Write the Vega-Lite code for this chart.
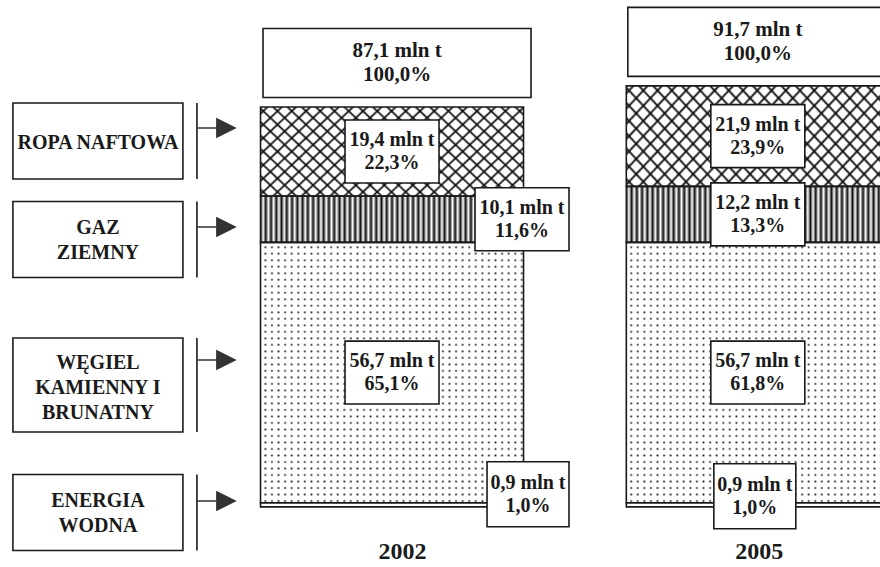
{
  "$schema": "https://vega.github.io/schema/vega-lite/v6.json",
  "width": 880,
  "height": 567,
  "padding": 0,
  "autosize": {"type": "none"},
  "background": "white",
  "config": {
    "view": {"stroke": null},
    "font": "Liberation Serif",
    "locale": {"number": {"decimal": ",", "thousands": " ", "grouping": [3], "currency": ["", " mln t"]}}
  },
  "datasets": {
    "nosniki": [
      {"rok": 2002, "nosnik": "ropa", "kolejnosc": 4, "mln_t": 19.4, "udzial": 0.223},
      {"rok": 2002, "nosnik": "gaz", "kolejnosc": 3, "mln_t": 10.1, "udzial": 0.116},
      {"rok": 2002, "nosnik": "wegiel", "kolejnosc": 2, "mln_t": 56.7, "udzial": 0.651},
      {"rok": 2002, "nosnik": "woda", "kolejnosc": 1, "mln_t": 0.9, "udzial": 0.010},
      {"rok": 2005, "nosnik": "ropa", "kolejnosc": 4, "mln_t": 21.9, "udzial": 0.239},
      {"rok": 2005, "nosnik": "gaz", "kolejnosc": 3, "mln_t": 12.2, "udzial": 0.133},
      {"rok": 2005, "nosnik": "wegiel", "kolejnosc": 2, "mln_t": 56.7, "udzial": 0.618},
      {"rok": 2005, "nosnik": "woda", "kolejnosc": 1, "mln_t": 0.9, "udzial": 0.010}
    ],
    "legenda": [
      {"nosnik": "ropa", "nazwa": "ROPA NAFTOWA"},
      {"nosnik": "gaz", "nazwa": "GAZ\nZIEMNY"},
      {"nosnik": "wegiel", "nazwa": "WĘGIEL\nKAMIENNY I\nBRUNATNY"},
      {"nosnik": "woda", "nazwa": "ENERGIA\nWODNA"}
    ]
  },
  "layer": [
    {
      "data": {"name": "nosniki"},
      "encoding": {
        "x": {
          "field": "rok", "type": "quantitative",
          "scale": {"domain": [1998.826, 2005.961], "nice": false, "zero": false},
          "axis": {"values": [2002, 2005], "format": "d", "title": null, "domain": false, "ticks": false, "tickSize": 0, "grid": false,
                   "labelFont": "Liberation Serif", "labelFontSize": 24, "labelFontWeight": "bold", "labelColor": "#1a1a1a",
                   "labelPadding": 0, "labelFlush": false, "labelOverlap": false, "offset": -28,
                   "labelOffset": {"condition": {"test": "datum.value === 2002", "value": 10}, "value": 1}}
        },
        "y": {"field": "mln_t", "type": "quantitative", "stack": "zero", "scale": {"domain": [-13.1, 110.4], "nice": false, "zero": false}, "axis": null},
        "detail": {"field": "nosnik", "type": "nominal"},
        "order": {"field": "kolejnosc", "type": "quantitative"}
      },
      "layer": [
        {
          "mark": {"type": "bar", "width": 263, "opacity": 1},
          "encoding": {
            "fill": {
              "condition": [
                {"test": "datum.nosnik === 'gaz'", "value": {"gradient": "linear", "x1": 0, "y1": 0, "x2": 1, "y2": 0, "stops": [
                  {"offset": 0, "color": "#111"}, {"offset": 0.01, "color": "#fff"}, {"offset": 0.02, "color": "#111"}, {"offset": 0.03, "color": "#fff"},
                  {"offset": 0.04, "color": "#111"}, {"offset": 0.05, "color": "#fff"}, {"offset": 0.06, "color": "#111"}, {"offset": 0.07, "color": "#fff"},
                  {"offset": 0.08, "color": "#111"}, {"offset": 0.09, "color": "#fff"}, {"offset": 0.10, "color": "#111"}, {"offset": 0.11, "color": "#fff"},
                  {"offset": 0.12, "color": "#111"}, {"offset": 0.13, "color": "#fff"}, {"offset": 0.14, "color": "#111"}, {"offset": 0.15, "color": "#fff"},
                  {"offset": 0.16, "color": "#111"}, {"offset": 0.17, "color": "#fff"}, {"offset": 0.18, "color": "#111"}, {"offset": 0.19, "color": "#fff"},
                  {"offset": 0.20, "color": "#111"}, {"offset": 0.21, "color": "#fff"}, {"offset": 0.22, "color": "#111"}, {"offset": 0.23, "color": "#fff"},
                  {"offset": 0.24, "color": "#111"}, {"offset": 0.25, "color": "#fff"}, {"offset": 0.26, "color": "#111"}, {"offset": 0.27, "color": "#fff"},
                  {"offset": 0.28, "color": "#111"}, {"offset": 0.29, "color": "#fff"}, {"offset": 0.30, "color": "#111"}, {"offset": 0.31, "color": "#fff"},
                  {"offset": 0.32, "color": "#111"}, {"offset": 0.33, "color": "#fff"}, {"offset": 0.34, "color": "#111"}, {"offset": 0.35, "color": "#fff"},
                  {"offset": 0.36, "color": "#111"}, {"offset": 0.37, "color": "#fff"}, {"offset": 0.38, "color": "#111"}, {"offset": 0.39, "color": "#fff"},
                  {"offset": 0.40, "color": "#111"}, {"offset": 0.41, "color": "#fff"}, {"offset": 0.42, "color": "#111"}, {"offset": 0.43, "color": "#fff"},
                  {"offset": 0.44, "color": "#111"}, {"offset": 0.45, "color": "#fff"}, {"offset": 0.46, "color": "#111"}, {"offset": 0.47, "color": "#fff"},
                  {"offset": 0.48, "color": "#111"}, {"offset": 0.49, "color": "#fff"}, {"offset": 0.50, "color": "#111"}, {"offset": 0.51, "color": "#fff"},
                  {"offset": 0.52, "color": "#111"}, {"offset": 0.53, "color": "#fff"}, {"offset": 0.54, "color": "#111"}, {"offset": 0.55, "color": "#fff"},
                  {"offset": 0.56, "color": "#111"}, {"offset": 0.57, "color": "#fff"}, {"offset": 0.58, "color": "#111"}, {"offset": 0.59, "color": "#fff"},
                  {"offset": 0.60, "color": "#111"}, {"offset": 0.61, "color": "#fff"}, {"offset": 0.62, "color": "#111"}, {"offset": 0.63, "color": "#fff"},
                  {"offset": 0.64, "color": "#111"}, {"offset": 0.65, "color": "#fff"}, {"offset": 0.66, "color": "#111"}, {"offset": 0.67, "color": "#fff"},
                  {"offset": 0.68, "color": "#111"}, {"offset": 0.69, "color": "#fff"}, {"offset": 0.70, "color": "#111"}, {"offset": 0.71, "color": "#fff"},
                  {"offset": 0.72, "color": "#111"}, {"offset": 0.73, "color": "#fff"}, {"offset": 0.74, "color": "#111"}, {"offset": 0.75, "color": "#fff"},
                  {"offset": 0.76, "color": "#111"}, {"offset": 0.77, "color": "#fff"}, {"offset": 0.78, "color": "#111"}, {"offset": 0.79, "color": "#fff"},
                  {"offset": 0.80, "color": "#111"}, {"offset": 0.81, "color": "#fff"}, {"offset": 0.82, "color": "#111"}, {"offset": 0.83, "color": "#fff"},
                  {"offset": 0.84, "color": "#111"}, {"offset": 0.85, "color": "#fff"}, {"offset": 0.86, "color": "#111"}, {"offset": 0.87, "color": "#fff"},
                  {"offset": 0.88, "color": "#111"}, {"offset": 0.89, "color": "#fff"}, {"offset": 0.90, "color": "#111"}, {"offset": 0.91, "color": "#fff"},
                  {"offset": 0.92, "color": "#111"}, {"offset": 0.93, "color": "#fff"}, {"offset": 0.94, "color": "#111"}, {"offset": 0.95, "color": "#fff"},
                  {"offset": 0.96, "color": "#111"}, {"offset": 0.97, "color": "#fff"}, {"offset": 0.98, "color": "#111"}, {"offset": 0.99, "color": "#fff"},
                  {"offset": 1, "color": "#111"}
                ]}},
                {"test": "datum.nosnik === 'wegiel'", "value": "#111"}
              ],
              "value": "white"
            }
          }
        },
        {
          "mark": {"type": "bar", "width": 263, "opacity": 1},
          "encoding": {
            "fill": {
              "condition": [
                {"test": "datum.nosnik === 'ropa'", "value": {"gradient": "linear", "x1": 0, "y1": 0, "x2": 1.2, "y2": 0.43, "stops": [
                  {"offset": 0.013, "color": "rgba(0,0,0,0)"}, {"offset": 0.02, "color": "#111"}, {"offset": 0.027, "color": "rgba(0,0,0,0)"},
                  {"offset": 0.053, "color": "rgba(0,0,0,0)"}, {"offset": 0.06, "color": "#111"}, {"offset": 0.067, "color": "rgba(0,0,0,0)"},
                  {"offset": 0.093, "color": "rgba(0,0,0,0)"}, {"offset": 0.1, "color": "#111"}, {"offset": 0.107, "color": "rgba(0,0,0,0)"},
                  {"offset": 0.133, "color": "rgba(0,0,0,0)"}, {"offset": 0.14, "color": "#111"}, {"offset": 0.147, "color": "rgba(0,0,0,0)"},
                  {"offset": 0.173, "color": "rgba(0,0,0,0)"}, {"offset": 0.18, "color": "#111"}, {"offset": 0.187, "color": "rgba(0,0,0,0)"},
                  {"offset": 0.213, "color": "rgba(0,0,0,0)"}, {"offset": 0.22, "color": "#111"}, {"offset": 0.227, "color": "rgba(0,0,0,0)"},
                  {"offset": 0.253, "color": "rgba(0,0,0,0)"}, {"offset": 0.26, "color": "#111"}, {"offset": 0.267, "color": "rgba(0,0,0,0)"},
                  {"offset": 0.293, "color": "rgba(0,0,0,0)"}, {"offset": 0.3, "color": "#111"}, {"offset": 0.307, "color": "rgba(0,0,0,0)"},
                  {"offset": 0.333, "color": "rgba(0,0,0,0)"}, {"offset": 0.34, "color": "#111"}, {"offset": 0.347, "color": "rgba(0,0,0,0)"},
                  {"offset": 0.373, "color": "rgba(0,0,0,0)"}, {"offset": 0.38, "color": "#111"}, {"offset": 0.387, "color": "rgba(0,0,0,0)"},
                  {"offset": 0.413, "color": "rgba(0,0,0,0)"}, {"offset": 0.42, "color": "#111"}, {"offset": 0.427, "color": "rgba(0,0,0,0)"},
                  {"offset": 0.453, "color": "rgba(0,0,0,0)"}, {"offset": 0.46, "color": "#111"}, {"offset": 0.467, "color": "rgba(0,0,0,0)"},
                  {"offset": 0.493, "color": "rgba(0,0,0,0)"}, {"offset": 0.5, "color": "#111"}, {"offset": 0.507, "color": "rgba(0,0,0,0)"},
                  {"offset": 0.533, "color": "rgba(0,0,0,0)"}, {"offset": 0.54, "color": "#111"}, {"offset": 0.547, "color": "rgba(0,0,0,0)"},
                  {"offset": 0.573, "color": "rgba(0,0,0,0)"}, {"offset": 0.58, "color": "#111"}, {"offset": 0.587, "color": "rgba(0,0,0,0)"},
                  {"offset": 0.613, "color": "rgba(0,0,0,0)"}, {"offset": 0.62, "color": "#111"}, {"offset": 0.627, "color": "rgba(0,0,0,0)"},
                  {"offset": 0.653, "color": "rgba(0,0,0,0)"}, {"offset": 0.66, "color": "#111"}, {"offset": 0.667, "color": "rgba(0,0,0,0)"},
                  {"offset": 0.693, "color": "rgba(0,0,0,0)"}, {"offset": 0.7, "color": "#111"}, {"offset": 0.707, "color": "rgba(0,0,0,0)"},
                  {"offset": 0.733, "color": "rgba(0,0,0,0)"}, {"offset": 0.74, "color": "#111"}, {"offset": 0.747, "color": "rgba(0,0,0,0)"},
                  {"offset": 0.773, "color": "rgba(0,0,0,0)"}, {"offset": 0.78, "color": "#111"}, {"offset": 0.787, "color": "rgba(0,0,0,0)"},
                  {"offset": 0.813, "color": "rgba(0,0,0,0)"}, {"offset": 0.82, "color": "#111"}, {"offset": 0.827, "color": "rgba(0,0,0,0)"},
                  {"offset": 0.853, "color": "rgba(0,0,0,0)"}, {"offset": 0.86, "color": "#111"}, {"offset": 0.867, "color": "rgba(0,0,0,0)"},
                  {"offset": 0.893, "color": "rgba(0,0,0,0)"}, {"offset": 0.9, "color": "#111"}, {"offset": 0.907, "color": "rgba(0,0,0,0)"},
                  {"offset": 0.933, "color": "rgba(0,0,0,0)"}, {"offset": 0.94, "color": "#111"}, {"offset": 0.947, "color": "rgba(0,0,0,0)"},
                  {"offset": 0.973, "color": "rgba(0,0,0,0)"}, {"offset": 0.98, "color": "#111"}, {"offset": 0.987, "color": "rgba(0,0,0,0)"}
                ]}},
                {"test": "datum.nosnik === 'wegiel'", "value": {"gradient": "linear", "x1": 0, "y1": 0, "x2": 1, "y2": 0, "stops": [
                  {"offset": 0, "color": "#fff"}, {"offset": 0.012, "color": "#fff"}, {"offset": 0.0185, "color": "rgba(255,255,255,0)"},
                  {"offset": 0.025, "color": "#fff"}, {"offset": 0.037, "color": "#fff"}, {"offset": 0.0435, "color": "rgba(255,255,255,0)"},
                  {"offset": 0.05, "color": "#fff"}, {"offset": 0.062, "color": "#fff"}, {"offset": 0.0685, "color": "rgba(255,255,255,0)"},
                  {"offset": 0.075, "color": "#fff"}, {"offset": 0.087, "color": "#fff"}, {"offset": 0.0935, "color": "rgba(255,255,255,0)"},
                  {"offset": 0.1, "color": "#fff"}, {"offset": 0.112, "color": "#fff"}, {"offset": 0.1185, "color": "rgba(255,255,255,0)"},
                  {"offset": 0.125, "color": "#fff"}, {"offset": 0.137, "color": "#fff"}, {"offset": 0.1435, "color": "rgba(255,255,255,0)"},
                  {"offset": 0.15, "color": "#fff"}, {"offset": 0.162, "color": "#fff"}, {"offset": 0.1685, "color": "rgba(255,255,255,0)"},
                  {"offset": 0.175, "color": "#fff"}, {"offset": 0.187, "color": "#fff"}, {"offset": 0.1935, "color": "rgba(255,255,255,0)"},
                  {"offset": 0.2, "color": "#fff"}, {"offset": 0.212, "color": "#fff"}, {"offset": 0.2185, "color": "rgba(255,255,255,0)"},
                  {"offset": 0.225, "color": "#fff"}, {"offset": 0.237, "color": "#fff"}, {"offset": 0.2435, "color": "rgba(255,255,255,0)"},
                  {"offset": 0.25, "color": "#fff"}, {"offset": 0.262, "color": "#fff"}, {"offset": 0.2685, "color": "rgba(255,255,255,0)"},
                  {"offset": 0.275, "color": "#fff"}, {"offset": 0.287, "color": "#fff"}, {"offset": 0.2935, "color": "rgba(255,255,255,0)"},
                  {"offset": 0.3, "color": "#fff"}, {"offset": 0.312, "color": "#fff"}, {"offset": 0.3185, "color": "rgba(255,255,255,0)"},
                  {"offset": 0.325, "color": "#fff"}, {"offset": 0.337, "color": "#fff"}, {"offset": 0.3435, "color": "rgba(255,255,255,0)"},
                  {"offset": 0.35, "color": "#fff"}, {"offset": 0.362, "color": "#fff"}, {"offset": 0.3685, "color": "rgba(255,255,255,0)"},
                  {"offset": 0.375, "color": "#fff"}, {"offset": 0.387, "color": "#fff"}, {"offset": 0.3935, "color": "rgba(255,255,255,0)"},
                  {"offset": 0.4, "color": "#fff"}, {"offset": 0.412, "color": "#fff"}, {"offset": 0.4185, "color": "rgba(255,255,255,0)"},
                  {"offset": 0.425, "color": "#fff"}, {"offset": 0.437, "color": "#fff"}, {"offset": 0.4435, "color": "rgba(255,255,255,0)"},
                  {"offset": 0.45, "color": "#fff"}, {"offset": 0.462, "color": "#fff"}, {"offset": 0.4685, "color": "rgba(255,255,255,0)"},
                  {"offset": 0.475, "color": "#fff"}, {"offset": 0.487, "color": "#fff"}, {"offset": 0.4935, "color": "rgba(255,255,255,0)"},
                  {"offset": 0.5, "color": "#fff"}, {"offset": 0.512, "color": "#fff"}, {"offset": 0.5185, "color": "rgba(255,255,255,0)"},
                  {"offset": 0.525, "color": "#fff"}, {"offset": 0.537, "color": "#fff"}, {"offset": 0.5435, "color": "rgba(255,255,255,0)"},
                  {"offset": 0.55, "color": "#fff"}, {"offset": 0.562, "color": "#fff"}, {"offset": 0.5685, "color": "rgba(255,255,255,0)"},
                  {"offset": 0.575, "color": "#fff"}, {"offset": 0.587, "color": "#fff"}, {"offset": 0.5935, "color": "rgba(255,255,255,0)"},
                  {"offset": 0.6, "color": "#fff"}, {"offset": 0.612, "color": "#fff"}, {"offset": 0.6185, "color": "rgba(255,255,255,0)"},
                  {"offset": 0.625, "color": "#fff"}, {"offset": 0.637, "color": "#fff"}, {"offset": 0.6435, "color": "rgba(255,255,255,0)"},
                  {"offset": 0.65, "color": "#fff"}, {"offset": 0.662, "color": "#fff"}, {"offset": 0.6685, "color": "rgba(255,255,255,0)"},
                  {"offset": 0.675, "color": "#fff"}, {"offset": 0.687, "color": "#fff"}, {"offset": 0.6935, "color": "rgba(255,255,255,0)"},
                  {"offset": 0.7, "color": "#fff"}, {"offset": 0.712, "color": "#fff"}, {"offset": 0.7185, "color": "rgba(255,255,255,0)"},
                  {"offset": 0.725, "color": "#fff"}, {"offset": 0.737, "color": "#fff"}, {"offset": 0.7435, "color": "rgba(255,255,255,0)"},
                  {"offset": 0.75, "color": "#fff"}, {"offset": 0.762, "color": "#fff"}, {"offset": 0.7685, "color": "rgba(255,255,255,0)"},
                  {"offset": 0.775, "color": "#fff"}, {"offset": 0.787, "color": "#fff"}, {"offset": 0.7935, "color": "rgba(255,255,255,0)"},
                  {"offset": 0.8, "color": "#fff"}, {"offset": 0.812, "color": "#fff"}, {"offset": 0.8185, "color": "rgba(255,255,255,0)"},
                  {"offset": 0.825, "color": "#fff"}, {"offset": 0.837, "color": "#fff"}, {"offset": 0.8435, "color": "rgba(255,255,255,0)"},
                  {"offset": 0.85, "color": "#fff"}, {"offset": 0.862, "color": "#fff"}, {"offset": 0.8685, "color": "rgba(255,255,255,0)"},
                  {"offset": 0.875, "color": "#fff"}, {"offset": 0.887, "color": "#fff"}, {"offset": 0.8935, "color": "rgba(255,255,255,0)"},
                  {"offset": 0.9, "color": "#fff"}, {"offset": 0.912, "color": "#fff"}, {"offset": 0.9185, "color": "rgba(255,255,255,0)"},
                  {"offset": 0.925, "color": "#fff"}, {"offset": 0.937, "color": "#fff"}, {"offset": 0.9435, "color": "rgba(255,255,255,0)"},
                  {"offset": 0.95, "color": "#fff"}, {"offset": 0.962, "color": "#fff"}, {"offset": 0.9685, "color": "rgba(255,255,255,0)"},
                  {"offset": 0.975, "color": "#fff"}, {"offset": 0.987, "color": "#fff"}, {"offset": 0.9935, "color": "rgba(255,255,255,0)"},
                  {"offset": 1, "color": "#fff"}
                ]}}
              ],
              "value": "transparent"
            }
          }
        },
        {
          "mark": {"type": "bar", "width": 263, "opacity": 1},
          "encoding": {
            "fill": {
              "condition": [
                {"test": "datum.nosnik === 'ropa'", "value": {"gradient": "linear", "x1": 0, "y1": 1, "x2": 1.2, "y2": 0.57, "stops": [
                  {"offset": 0.013, "color": "rgba(0,0,0,0)"}, {"offset": 0.02, "color": "#111"}, {"offset": 0.027, "color": "rgba(0,0,0,0)"},
                  {"offset": 0.053, "color": "rgba(0,0,0,0)"}, {"offset": 0.06, "color": "#111"}, {"offset": 0.067, "color": "rgba(0,0,0,0)"},
                  {"offset": 0.093, "color": "rgba(0,0,0,0)"}, {"offset": 0.1, "color": "#111"}, {"offset": 0.107, "color": "rgba(0,0,0,0)"},
                  {"offset": 0.133, "color": "rgba(0,0,0,0)"}, {"offset": 0.14, "color": "#111"}, {"offset": 0.147, "color": "rgba(0,0,0,0)"},
                  {"offset": 0.173, "color": "rgba(0,0,0,0)"}, {"offset": 0.18, "color": "#111"}, {"offset": 0.187, "color": "rgba(0,0,0,0)"},
                  {"offset": 0.213, "color": "rgba(0,0,0,0)"}, {"offset": 0.22, "color": "#111"}, {"offset": 0.227, "color": "rgba(0,0,0,0)"},
                  {"offset": 0.253, "color": "rgba(0,0,0,0)"}, {"offset": 0.26, "color": "#111"}, {"offset": 0.267, "color": "rgba(0,0,0,0)"},
                  {"offset": 0.293, "color": "rgba(0,0,0,0)"}, {"offset": 0.3, "color": "#111"}, {"offset": 0.307, "color": "rgba(0,0,0,0)"},
                  {"offset": 0.333, "color": "rgba(0,0,0,0)"}, {"offset": 0.34, "color": "#111"}, {"offset": 0.347, "color": "rgba(0,0,0,0)"},
                  {"offset": 0.373, "color": "rgba(0,0,0,0)"}, {"offset": 0.38, "color": "#111"}, {"offset": 0.387, "color": "rgba(0,0,0,0)"},
                  {"offset": 0.413, "color": "rgba(0,0,0,0)"}, {"offset": 0.42, "color": "#111"}, {"offset": 0.427, "color": "rgba(0,0,0,0)"},
                  {"offset": 0.453, "color": "rgba(0,0,0,0)"}, {"offset": 0.46, "color": "#111"}, {"offset": 0.467, "color": "rgba(0,0,0,0)"},
                  {"offset": 0.493, "color": "rgba(0,0,0,0)"}, {"offset": 0.5, "color": "#111"}, {"offset": 0.507, "color": "rgba(0,0,0,0)"},
                  {"offset": 0.533, "color": "rgba(0,0,0,0)"}, {"offset": 0.54, "color": "#111"}, {"offset": 0.547, "color": "rgba(0,0,0,0)"},
                  {"offset": 0.573, "color": "rgba(0,0,0,0)"}, {"offset": 0.58, "color": "#111"}, {"offset": 0.587, "color": "rgba(0,0,0,0)"},
                  {"offset": 0.613, "color": "rgba(0,0,0,0)"}, {"offset": 0.62, "color": "#111"}, {"offset": 0.627, "color": "rgba(0,0,0,0)"},
                  {"offset": 0.653, "color": "rgba(0,0,0,0)"}, {"offset": 0.66, "color": "#111"}, {"offset": 0.667, "color": "rgba(0,0,0,0)"},
                  {"offset": 0.693, "color": "rgba(0,0,0,0)"}, {"offset": 0.7, "color": "#111"}, {"offset": 0.707, "color": "rgba(0,0,0,0)"},
                  {"offset": 0.733, "color": "rgba(0,0,0,0)"}, {"offset": 0.74, "color": "#111"}, {"offset": 0.747, "color": "rgba(0,0,0,0)"},
                  {"offset": 0.773, "color": "rgba(0,0,0,0)"}, {"offset": 0.78, "color": "#111"}, {"offset": 0.787, "color": "rgba(0,0,0,0)"},
                  {"offset": 0.813, "color": "rgba(0,0,0,0)"}, {"offset": 0.82, "color": "#111"}, {"offset": 0.827, "color": "rgba(0,0,0,0)"},
                  {"offset": 0.853, "color": "rgba(0,0,0,0)"}, {"offset": 0.86, "color": "#111"}, {"offset": 0.867, "color": "rgba(0,0,0,0)"},
                  {"offset": 0.893, "color": "rgba(0,0,0,0)"}, {"offset": 0.9, "color": "#111"}, {"offset": 0.907, "color": "rgba(0,0,0,0)"},
                  {"offset": 0.933, "color": "rgba(0,0,0,0)"}, {"offset": 0.94, "color": "#111"}, {"offset": 0.947, "color": "rgba(0,0,0,0)"},
                  {"offset": 0.973, "color": "rgba(0,0,0,0)"}, {"offset": 0.98, "color": "#111"}, {"offset": 0.987, "color": "rgba(0,0,0,0)"}
                ]}},
                {"test": "datum.nosnik === 'wegiel'", "value": {"gradient": "linear", "x1": 0, "y1": 0, "x2": 0, "y2": 1, "stops": [
                  {"offset": 0, "color": "#fff"}, {"offset": 0.012, "color": "#fff"}, {"offset": 0.0185, "color": "rgba(255,255,255,0)"},
                  {"offset": 0.025, "color": "#fff"}, {"offset": 0.037, "color": "#fff"}, {"offset": 0.0435, "color": "rgba(255,255,255,0)"},
                  {"offset": 0.05, "color": "#fff"}, {"offset": 0.062, "color": "#fff"}, {"offset": 0.0685, "color": "rgba(255,255,255,0)"},
                  {"offset": 0.075, "color": "#fff"}, {"offset": 0.087, "color": "#fff"}, {"offset": 0.0935, "color": "rgba(255,255,255,0)"},
                  {"offset": 0.1, "color": "#fff"}, {"offset": 0.112, "color": "#fff"}, {"offset": 0.1185, "color": "rgba(255,255,255,0)"},
                  {"offset": 0.125, "color": "#fff"}, {"offset": 0.137, "color": "#fff"}, {"offset": 0.1435, "color": "rgba(255,255,255,0)"},
                  {"offset": 0.15, "color": "#fff"}, {"offset": 0.162, "color": "#fff"}, {"offset": 0.1685, "color": "rgba(255,255,255,0)"},
                  {"offset": 0.175, "color": "#fff"}, {"offset": 0.187, "color": "#fff"}, {"offset": 0.1935, "color": "rgba(255,255,255,0)"},
                  {"offset": 0.2, "color": "#fff"}, {"offset": 0.212, "color": "#fff"}, {"offset": 0.2185, "color": "rgba(255,255,255,0)"},
                  {"offset": 0.225, "color": "#fff"}, {"offset": 0.237, "color": "#fff"}, {"offset": 0.2435, "color": "rgba(255,255,255,0)"},
                  {"offset": 0.25, "color": "#fff"}, {"offset": 0.262, "color": "#fff"}, {"offset": 0.2685, "color": "rgba(255,255,255,0)"},
                  {"offset": 0.275, "color": "#fff"}, {"offset": 0.287, "color": "#fff"}, {"offset": 0.2935, "color": "rgba(255,255,255,0)"},
                  {"offset": 0.3, "color": "#fff"}, {"offset": 0.312, "color": "#fff"}, {"offset": 0.3185, "color": "rgba(255,255,255,0)"},
                  {"offset": 0.325, "color": "#fff"}, {"offset": 0.337, "color": "#fff"}, {"offset": 0.3435, "color": "rgba(255,255,255,0)"},
                  {"offset": 0.35, "color": "#fff"}, {"offset": 0.362, "color": "#fff"}, {"offset": 0.3685, "color": "rgba(255,255,255,0)"},
                  {"offset": 0.375, "color": "#fff"}, {"offset": 0.387, "color": "#fff"}, {"offset": 0.3935, "color": "rgba(255,255,255,0)"},
                  {"offset": 0.4, "color": "#fff"}, {"offset": 0.412, "color": "#fff"}, {"offset": 0.4185, "color": "rgba(255,255,255,0)"},
                  {"offset": 0.425, "color": "#fff"}, {"offset": 0.437, "color": "#fff"}, {"offset": 0.4435, "color": "rgba(255,255,255,0)"},
                  {"offset": 0.45, "color": "#fff"}, {"offset": 0.462, "color": "#fff"}, {"offset": 0.4685, "color": "rgba(255,255,255,0)"},
                  {"offset": 0.475, "color": "#fff"}, {"offset": 0.487, "color": "#fff"}, {"offset": 0.4935, "color": "rgba(255,255,255,0)"},
                  {"offset": 0.5, "color": "#fff"}, {"offset": 0.512, "color": "#fff"}, {"offset": 0.5185, "color": "rgba(255,255,255,0)"},
                  {"offset": 0.525, "color": "#fff"}, {"offset": 0.537, "color": "#fff"}, {"offset": 0.5435, "color": "rgba(255,255,255,0)"},
                  {"offset": 0.55, "color": "#fff"}, {"offset": 0.562, "color": "#fff"}, {"offset": 0.5685, "color": "rgba(255,255,255,0)"},
                  {"offset": 0.575, "color": "#fff"}, {"offset": 0.587, "color": "#fff"}, {"offset": 0.5935, "color": "rgba(255,255,255,0)"},
                  {"offset": 0.6, "color": "#fff"}, {"offset": 0.612, "color": "#fff"}, {"offset": 0.6185, "color": "rgba(255,255,255,0)"},
                  {"offset": 0.625, "color": "#fff"}, {"offset": 0.637, "color": "#fff"}, {"offset": 0.6435, "color": "rgba(255,255,255,0)"},
                  {"offset": 0.65, "color": "#fff"}, {"offset": 0.662, "color": "#fff"}, {"offset": 0.6685, "color": "rgba(255,255,255,0)"},
                  {"offset": 0.675, "color": "#fff"}, {"offset": 0.687, "color": "#fff"}, {"offset": 0.6935, "color": "rgba(255,255,255,0)"},
                  {"offset": 0.7, "color": "#fff"}, {"offset": 0.712, "color": "#fff"}, {"offset": 0.7185, "color": "rgba(255,255,255,0)"},
                  {"offset": 0.725, "color": "#fff"}, {"offset": 0.737, "color": "#fff"}, {"offset": 0.7435, "color": "rgba(255,255,255,0)"},
                  {"offset": 0.75, "color": "#fff"}, {"offset": 0.762, "color": "#fff"}, {"offset": 0.7685, "color": "rgba(255,255,255,0)"},
                  {"offset": 0.775, "color": "#fff"}, {"offset": 0.787, "color": "#fff"}, {"offset": 0.7935, "color": "rgba(255,255,255,0)"},
                  {"offset": 0.8, "color": "#fff"}, {"offset": 0.812, "color": "#fff"}, {"offset": 0.8185, "color": "rgba(255,255,255,0)"},
                  {"offset": 0.825, "color": "#fff"}, {"offset": 0.837, "color": "#fff"}, {"offset": 0.8435, "color": "rgba(255,255,255,0)"},
                  {"offset": 0.85, "color": "#fff"}, {"offset": 0.862, "color": "#fff"}, {"offset": 0.8685, "color": "rgba(255,255,255,0)"},
                  {"offset": 0.875, "color": "#fff"}, {"offset": 0.887, "color": "#fff"}, {"offset": 0.8935, "color": "rgba(255,255,255,0)"},
                  {"offset": 0.9, "color": "#fff"}, {"offset": 0.912, "color": "#fff"}, {"offset": 0.9185, "color": "rgba(255,255,255,0)"},
                  {"offset": 0.925, "color": "#fff"}, {"offset": 0.937, "color": "#fff"}, {"offset": 0.9435, "color": "rgba(255,255,255,0)"},
                  {"offset": 0.95, "color": "#fff"}, {"offset": 0.962, "color": "#fff"}, {"offset": 0.9685, "color": "rgba(255,255,255,0)"},
                  {"offset": 0.975, "color": "#fff"}, {"offset": 0.987, "color": "#fff"}, {"offset": 0.9935, "color": "rgba(255,255,255,0)"},
                  {"offset": 1, "color": "#fff"}
                ]}}
              ],
              "value": "transparent"
            }
          }
        },
        {
          "mark": {"type": "bar", "width": 263, "fill": "transparent", "stroke": "#1a1a1a", "strokeWidth": 1.6, "opacity": 1}
        },
        {
          "mark": {
            "type": "point", "filled": true, "fill": "white", "stroke": "#1a1a1a", "strokeWidth": 1.6, "opacity": 1, "size": 8836,
            "xOffset": {"expr": "datum.rok === 2002 && datum.nosnik === 'gaz' ? 130 : datum.rok === 2002 && datum.nosnik === 'woda' ? 136 : datum.nosnik === 'woda' ? -3 : 0"},
            "yOffset": {"expr": "datum.nosnik === 'woda' ? (datum.rok === 2002 ? -10.5 : -8.5) : 0"}
          },
          "encoding": {
            "y": {"field": "mln_t", "type": "quantitative", "stack": "zero", "bandPosition": 0.5, "scale": {"domain": [-13.1, 110.4], "nice": false, "zero": false}, "axis": null},
            "shape": {
              "field": "nosnik", "type": "nominal", "legend": null,
              "scale": {"domain": ["ropa", "gaz", "wegiel", "woda"],
                        "range": ["M-1,-0.67H1V0.67H-1Z", "M-1,-0.67H1V0.67H-1Z", "M-1,-0.67H1V0.67H-1Z", "M-0.872,-0.691H0.872V0.691H-0.872Z"]}
            }
          }
        },
        {
          "mark": {
            "type": "text", "font": "Liberation Serif", "fontSize": 20, "fontWeight": "bold", "fill": "#1a1a1a",
            "align": "center", "baseline": "middle", "dy": -11.5,
            "xOffset": {"expr": "datum.rok === 2002 && datum.nosnik === 'gaz' ? 130 : datum.rok === 2002 && datum.nosnik === 'woda' ? 136 : datum.nosnik === 'woda' ? -3 : 0"},
            "yOffset": {"expr": "datum.nosnik === 'woda' ? (datum.rok === 2002 ? -10.5 : -8.5) : 0"}
          },
          "encoding": {
            "y": {"field": "mln_t", "type": "quantitative", "stack": "zero", "bandPosition": 0.5, "scale": {"domain": [-13.1, 110.4], "nice": false, "zero": false}, "axis": null},
            "text": {"field": "mln_t", "type": "quantitative", "format": "$.1f"}
          }
        },
        {
          "mark": {
            "type": "text", "font": "Liberation Serif", "fontSize": 20, "fontWeight": "bold", "fill": "#1a1a1a",
            "align": "center", "baseline": "middle", "dy": 11.5,
            "xOffset": {"expr": "datum.rok === 2002 && datum.nosnik === 'gaz' ? 130 : datum.rok === 2002 && datum.nosnik === 'woda' ? 136 : datum.nosnik === 'woda' ? -3 : 0"},
            "yOffset": {"expr": "datum.nosnik === 'woda' ? (datum.rok === 2002 ? -10.5 : -8.5) : 0"}
          },
          "encoding": {
            "y": {"field": "mln_t", "type": "quantitative", "stack": "zero", "bandPosition": 0.5, "scale": {"domain": [-13.1, 110.4], "nice": false, "zero": false}, "axis": null},
            "text": {"field": "udzial", "type": "quantitative", "format": ".1%"}
          }
        }
      ]
    },
    {
      "data": {"name": "nosniki"},
      "transform": [
        {"aggregate": [{"op": "sum", "field": "mln_t", "as": "suma"}, {"op": "sum", "field": "udzial", "as": "udzial_suma"}], "groupby": ["rok"]}
      ],
      "encoding": {
        "x": {"field": "rok", "type": "quantitative", "scale": {"domain": [1998.826, 2005.961], "nice": false, "zero": false}},
        "y": {"field": "suma", "type": "quantitative", "scale": {"domain": [-13.1, 110.4], "nice": false, "zero": false}, "axis": null}
      },
      "layer": [
        {
          "mark": {"type": "point", "shape": "M-1,-0.2575H1V0.2575H-1Z", "size": 71824, "filled": true, "fill": "white", "stroke": "#1a1a1a", "strokeWidth": 1.6, "opacity": 1,
                   "yOffset": -44, "xOffset": {"expr": "datum.rok === 2002 ? 5 : 4"}}
        },
        {
          "mark": {"type": "text", "font": "Liberation Serif", "fontSize": 21, "fontWeight": "bold", "fill": "#1a1a1a", "align": "center", "baseline": "middle",
                   "dy": -12, "yOffset": -44, "xOffset": {"expr": "datum.rok === 2002 ? 5 : 0"}},
          "encoding": {"text": {"field": "suma", "type": "quantitative", "format": "$.1f"}}
        },
        {
          "mark": {"type": "text", "font": "Liberation Serif", "fontSize": 21, "fontWeight": "bold", "fill": "#1a1a1a", "align": "center", "baseline": "middle",
                   "dy": 12, "yOffset": -44, "xOffset": {"expr": "datum.rok === 2002 ? 5 : 0"}},
          "encoding": {"text": {"field": "udzial_suma", "type": "quantitative", "format": ".1%"}}
        }
      ]
    },
    {
      "data": {"name": "legenda"},
      "encoding": {
        "x": {"datum": 1999.588, "type": "quantitative", "scale": {"domain": [1998.826, 2005.961], "nice": false, "zero": false}},
        "y": {"field": "nosnik", "type": "nominal", "scale": {"type": "point", "domain": ["ropa", "gaz", "wegiel", "woda"], "padding": 0.75, "align": 0.6905}, "axis": null}
      },
      "layer": [
        {
          "mark": {"type": "point", "size": 28900, "filled": true, "fill": "white", "stroke": "#1a1a1a", "strokeWidth": 1.6, "opacity": 1,
                   "yOffset": {"expr": "datum.nosnik === 'ropa' ? 10.5 : datum.nosnik === 'gaz' ? -17 : datum.nosnik === 'wegiel' ? 2.5 : 4"}},
          "encoding": {
            "shape": {
              "field": "nosnik", "type": "nominal", "legend": null,
              "scale": {"domain": ["ropa", "gaz", "wegiel", "woda"],
                        "range": ["M-1,-0.447H1V0.447H-1ZM1.165,-0.447V0.447", "M-1,-0.447H1V0.447H-1ZM1.165,-0.447V0.447",
                                  "M-1,-0.553H1V0.553H-1ZM1.165,-0.553V0.553", "M-1,-0.447H1V0.447H-1ZM1.165,-0.447V0.447"]}
            }
          }
        },
        {
          "mark": {"type": "point", "shape": "M1.165,0H1.4M1.4,-0.106L1.612,0L1.4,0.106Z", "size": 28900, "filled": true, "fill": "#333", "stroke": "#333", "strokeWidth": 1.6, "opacity": 1,
                   "yOffset": {"expr": "datum.nosnik === 'ropa' ? -2.5 : datum.nosnik === 'gaz' ? -29.5 : datum.nosnik === 'wegiel' ? -22.5 : -7.5"}}
        },
        {
          "mark": {"type": "text", "font": "Liberation Serif", "fontSize": 20, "fontWeight": "bold", "fill": "#1a1a1a", "align": "center", "baseline": "middle",
                   "lineBreak": "\n", "lineHeight": 25,
                   "yOffset": {"expr": "datum.nosnik === 'ropa' ? 12 : datum.nosnik === 'gaz' ? -28.5 : datum.nosnik === 'wegiel' ? -20 : -7.5"}},
          "encoding": {"text": {"field": "nazwa", "type": "nominal"}}
        }
      ]
    }
  ],
  "resolve": {"scale": {"y": "independent", "shape": "independent"}}
}
